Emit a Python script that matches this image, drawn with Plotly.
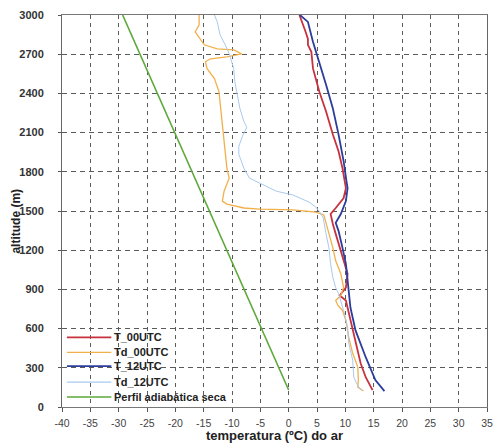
import plotly.graph_objects as go

# ---- data (temperature °C, altitude m) ----
t00_alt = [129, 228, 335, 510, 662, 815, 853, 914, 1020, 1119, 1195, 1249, 1325, 1401, 1477, 1523, 1599, 1675,
           1827, 1957, 2086, 2261, 2414, 2589, 2718, 2772, 2817, 2870, 3000]
t00_tmp = [14.8, 13.6, 12.7, 11.8, 10.9, 10.1, 9.0, 10.1, 10.4, 9.7, 9.2, 8.7, 8.3, 7.8, 7.4, 8.3, 9.7, 10.1,
           9.5, 8.8, 7.8, 6.6, 5.4, 4.3, 4.0, 3.4, 3.4, 3.0, 1.9]

td00_alt = [122, 152, 206, 305, 411, 533, 662, 739, 777, 815, 853, 914, 1020, 1119, 1218, 1325, 1401, 1470,
            1492, 1508, 1515, 1523, 1553, 1576, 1652, 1706, 1751, 1827, 1957, 2056, 2185, 2315, 2414, 2513,
            2589, 2642, 2665, 2680, 2703, 2733, 2741, 2772, 2817, 2870, 2924, 3000]
td00_tmp = [13.2, 12.2, 12.3, 12.2, 11.3, 10.6, 10.1, 9.5, 8.7, 8.3, 9.2, 9.7, 9.2, 8.3, 7.8, 7.1, 6.6, 6.2,
            4.8, 0.8, -5.1, -7.9, -10.9, -11.7, -11.4, -10.9, -10.5, -10.9, -11.2, -11.4, -11.7, -12.1, -12.3, -13.1,
            -14.4, -14.7, -13.8, -10.9, -8.3, -9.7, -12.6, -14.9, -15.6, -16.5, -15.8, -15.8]

t12_alt = [122, 206, 381, 586, 761, 891, 1096, 1218, 1348, 1409, 1477, 1576, 1675, 1728, 1881, 2086, 2284,
           2467, 2642, 2794, 2947, 3000]
t12_tmp = [16.9, 15.3, 13.6, 11.8, 10.9, 10.6, 10.1, 9.5, 8.8, 8.3, 9.2, 10.1, 10.4, 10.2, 9.7, 8.8, 7.8,
           6.6, 5.4, 4.3, 3.4, 2.0]

td12_alt = [129, 152, 228, 358, 487, 609, 739, 815, 868, 914, 990, 1096, 1218, 1325, 1447, 1492, 1530, 1568,
            1622, 1652, 1698, 1751, 1827, 1934, 1995, 2079, 2140, 2185, 2284, 2391, 2490, 2589, 2695, 2772,
            2848, 2947, 3000]
td12_tmp = [13.0, 12.3, 11.5, 11.3, 10.6, 10.4, 9.7, 9.2, 8.8, 8.3, 7.8, 7.4, 7.1, 6.6, 6.1, 5.5, 4.8, 3.6,
            0.8, -2.2, -4.4, -6.9, -7.9, -8.8, -8.8, -8.1, -7.4, -7.9, -8.6, -9.1, -9.5, -9.7, -10.4, -11.2,
            -12.1, -12.6, -13.1]

adiab_alt = [130, 3000]
adiab_tmp = [0.0, -29.3]

series_names = ["T_00UTC", "Td_00UTC", "T_12UTC", "Td_12UTC", "Perfil adiabática seca"]
series_colors = ["#c8323f", "#f2b04a", "#2c3d9c", "#a9c9f0", "#5da83a"]
series_widths = [1.8, 1.3, 1.8, 1.0, 1.6]

x_ticks = list(range(-40, 36, 5))
y_ticks = list(range(0, 3001, 300))

data = [(t00_tmp, t00_alt), (td00_tmp, td00_alt), (t12_tmp, t12_alt), (td12_tmp, td12_alt),
        (adiab_tmp, adiab_alt)]

fig = go.Figure()
for (xs, ys), name, col, w in zip(data, series_names, series_colors, series_widths):
    fig.add_trace(go.Scatter(x=xs, y=ys, mode="lines", name=name,
                             line=dict(color=col, width=w), showlegend=False))

FONT = "Arial, Liberation Sans, sans-serif"
L, R, T, B = 62, 9, 13, 38
W, H = 502, 445
pw, ph = W - L - R, H - T - B


def px_x(px):
    return (px - L) / pw


def px_y(py):
    return (H - B - py) / ph


# legend (custom, compact like the original)
shapes = [dict(type="rect", xref="paper", yref="paper", layer="between",
               x0=px_x(63), x1=px_x(250), y0=px_y(406), y1=px_y(331),
               fillcolor="white", line=dict(width=0))]
annotations = []
row_y = [337, 352, 366, 382, 397]
for i, (name, col, w) in enumerate(zip(series_names, series_colors, series_widths)):
    yy = px_y(row_y[i])
    shapes.append(dict(type="line", xref="paper", yref="paper", layer="above",
                       x0=px_x(67), x1=px_x(112), y0=yy, y1=yy,
                       line=dict(color=col, width=max(w, 1.2))))
    annotations.append(dict(xref="paper", yref="paper", x=px_x(113), y=yy, xanchor="left",
                            yanchor="middle", text=name, showarrow=False,
                            font=dict(family=FONT, size=11, color="#222", weight="bold")))

annotations.append(dict(xref="paper", yref="paper", x=px_x(15), y=px_y(220), text="altitude (m)",
                        textangle=-90, showarrow=False, xanchor="center", yanchor="middle",
                        font=dict(family=FONT, size=12, color="#222", weight="bold")))
annotations.append(dict(xref="paper", yref="paper", x=px_x(277), y=px_y(436),
                        text="temperatura (ºC) do ar", showarrow=False, xanchor="center",
                        yanchor="middle", font=dict(family=FONT, size=13, color="#222", weight="bold")))

fig.update_layout(
    width=W, height=H,
    margin=dict(l=L, r=R, t=T, b=B),
    paper_bgcolor="white", plot_bgcolor="white",
    shapes=shapes, annotations=annotations,
    showlegend=False,
)
fig.update_xaxes(range=[-40, 35], tickvals=x_ticks, ticktext=[str(v) for v in x_ticks],
                 showgrid=True, gridcolor="#5a5a5a", gridwidth=1, griddash="4px,4px",
                 zeroline=False, showline=True, linecolor="#777", linewidth=1, mirror=True,
                 ticks="outside", ticklen=4, tickcolor="#555",
                 tickfont=dict(family=FONT, size=10.5, color="#444"), ticklabelstandoff=2)
fig.update_yaxes(range=[0, 3000], tickvals=y_ticks, ticktext=[str(v) for v in y_ticks],
                 showgrid=True, gridcolor="#5a5a5a", gridwidth=1, griddash="5px,4px",
                 zeroline=False, showline=True, linecolor="#666", linewidth=1, mirror=True,
                 ticks="outside", ticklen=3, tickcolor="#555",
                 tickfont=dict(family=FONT, size=11, color="#333", weight="bold"), ticklabelstandoff=12)

fig.write_html("out.html", config={"displayModeBar": False},
               post_script="document.body.style.margin='0';document.body.style.padding='0';")
